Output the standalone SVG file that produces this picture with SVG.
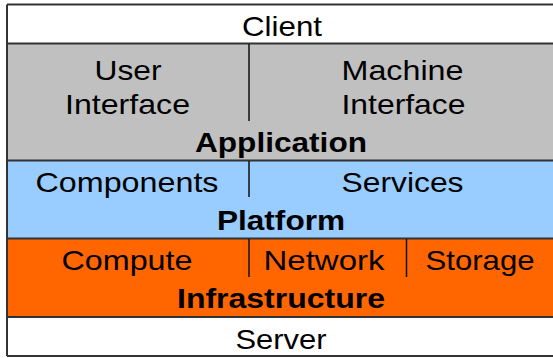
<svg xmlns="http://www.w3.org/2000/svg" width="553" height="358" viewBox="0 0 553 358">
<style>
text{font-family:"Liberation Sans",Arial,sans-serif;font-size:28px;fill:#000;text-anchor:middle}
.b{font-weight:bold}
.row{stroke:none}
.hl{stroke:#333;stroke-width:2;fill:none}
.dv{stroke:#111;stroke-width:1.5;fill:none}
</style>
<rect width="553" height="358" fill="#fff"/>
<g id="client">
<rect class="row" x="7" y="4.5" width="546" height="39" fill="#fff"/>
<text x="282" y="36" textLength="80" lengthAdjust="spacingAndGlyphs">Client</text>
</g>
<g id="application">
<rect class="row" x="7" y="43.5" width="546" height="117" fill="#c0c0c0"/>
<text x="128" y="80" textLength="67" lengthAdjust="spacingAndGlyphs">User</text>
<text x="127.5" y="114" textLength="125" lengthAdjust="spacingAndGlyphs">Interface</text>
<text x="402.5" y="80" textLength="122" lengthAdjust="spacingAndGlyphs">Machine</text>
<text x="403.5" y="114" textLength="124" lengthAdjust="spacingAndGlyphs">Interface</text>
<text class="b" x="281" y="152" textLength="172" lengthAdjust="spacingAndGlyphs">Application</text>
</g>
<g id="platform">
<rect class="row" x="7" y="160.5" width="546" height="78" fill="#99ccff"/>
<text x="127" y="192" textLength="183" lengthAdjust="spacingAndGlyphs">Components</text>
<text x="402.5" y="192" textLength="122" lengthAdjust="spacingAndGlyphs">Services</text>
<text class="b" x="281" y="230" textLength="128" lengthAdjust="spacingAndGlyphs">Platform</text>
</g>
<g id="infrastructure">
<rect class="row" x="7" y="238.5" width="546" height="78.5" fill="#ff6600"/>
<text x="127" y="270" textLength="131" lengthAdjust="spacingAndGlyphs">Compute</text>
<text x="324" y="270" textLength="121" lengthAdjust="spacingAndGlyphs">Network</text>
<text x="480" y="270" textLength="109" lengthAdjust="spacingAndGlyphs">Storage</text>
<text class="b" x="281" y="308" textLength="208" lengthAdjust="spacingAndGlyphs">Infrastructure</text>
</g>
<g id="server">
<rect class="row" x="7" y="317" width="546" height="39" fill="#fff"/>
<text x="281" y="349" textLength="91" lengthAdjust="spacingAndGlyphs">Server</text>
</g>
<g id="connectors">
<path class="hl" d="M7 4.5H553M7 43.5H553M7 160.5H553M7 238.5H553M7 317H553M7 356H553M7 4.5V356"/>
<path class="dv" d="M249 44V121M249 161V197M249 239V277M406.5 239V277"/>
</g>
</svg>
